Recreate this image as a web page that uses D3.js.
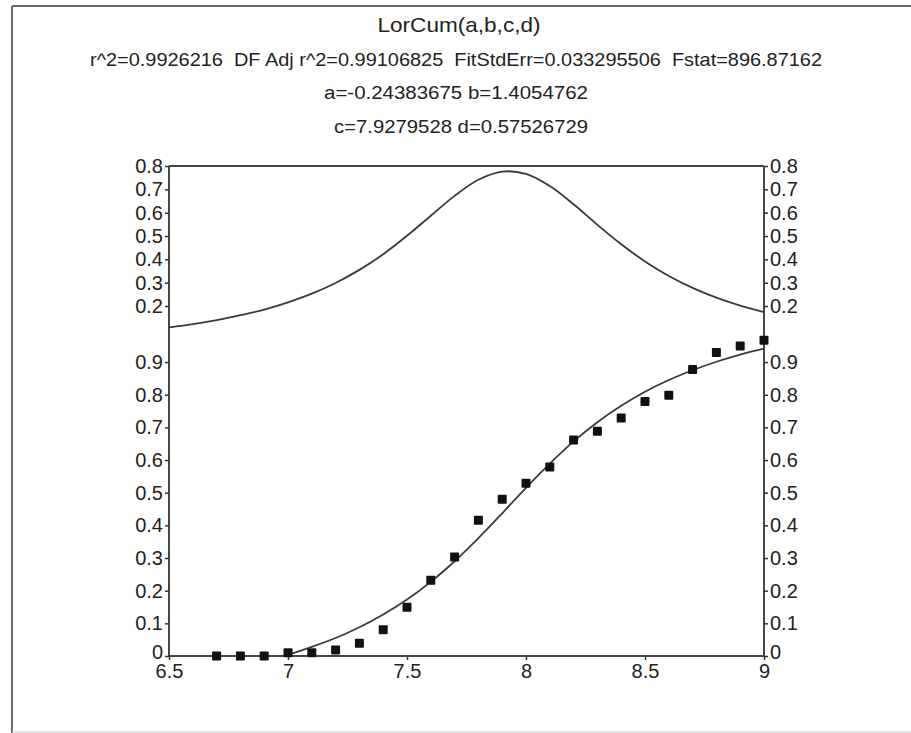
<!DOCTYPE html>
<html><head><meta charset="utf-8">
<script src="https://cdn.jsdelivr.net/npm/d3@7"></script>
<style>
html,body{margin:0;padding:0;background:#fff;}
svg{display:block;}
text{font-family:"Liberation Sans",Arial,sans-serif;fill:#222;white-space:pre;}
</style></head>
<body>
<svg id="chart" width="911" height="733"></svg>
<script>
// ---- data ----
const titleText = "LorCum(a,b,c,d)";
const statLines = [
  "r^2=0.9926216  DF Adj r^2=0.99106825  FitStdErr=0.033295506  Fstat=896.87162",
  "a=-0.24383675 b=1.4054762",
  "c=7.9279528 d=0.57526729"
];
const obsX = [6.7,6.8,6.9,7.0,7.1,7.2,7.3,7.4,7.5,7.6,7.7,7.8,7.9,8.0,8.1,8.2,8.3,8.4,8.5,8.6,8.7,8.8,8.9,9.0];
const obsY = [0.0,0.0,0.0,0.01,0.01,0.018,0.039,0.08,0.149,0.232,0.303,0.416,0.48,0.529,0.579,0.661,0.688,0.729,0.779,0.798,0.877,0.929,0.949,0.967];
const fitX = [6.5,6.6,6.7,6.8,6.9,7.0,7.1,7.2,7.3,7.4,7.5,7.6,7.7,7.8,7.9,8.0,8.1,8.2,8.3,8.4,8.5,8.6,8.7,8.8,8.9,9.0];
const fitCum = [-0.073,-0.061,-0.048,-0.033,-0.016,0.004,0.028,0.055,0.088,0.127,0.173,0.227,0.290,0.361,0.437,0.515,0.589,0.657,0.716,0.766,0.809,0.845,0.875,0.901,0.923,0.941];
const fitPeak = [0.109,0.123,0.140,0.161,0.185,0.216,0.253,0.299,0.355,0.422,0.501,0.587,0.672,0.741,0.776,0.766,0.714,0.636,0.548,0.465,0.391,0.329,0.278,0.236,0.202,0.174];
const xTicks = [6.5,7,7.5,8,8.5,9];
const lowTicks = [0,0.1,0.2,0.3,0.4,0.5,0.6,0.7,0.8,0.9];
const upTicks = [0.2,0.3,0.4,0.5,0.6,0.7,0.8];

// ---- layout ----
const L = 169, R = 764, TOP = 166, MID = 329.4, BOT = 656;
const svg = d3.select("#chart");
const x = d3.scaleLinear().domain([6.5, 9]).range([L, R]);
const yLow = d3.scaleLinear().domain([0, 1]).range([BOT, MID]);
const yUp = d3.scaleLinear().domain([0.1, 0.8]).range([MID, TOP]);
const fmt = d => String(d);

// outer frame
svg.append("line").attr("x1", 12).attr("y1", 6).attr("x2", 911).attr("y2", 6).attr("stroke", "#6a6a6a").attr("stroke-width", 2);
svg.append("line").attr("x1", 12).attr("y1", 6).attr("x2", 12).attr("y2", 733).attr("stroke", "#6a6a6a").attr("stroke-width", 2);
svg.append("line").attr("x1", 12).attr("y1", 732).attr("x2", 911).attr("y2", 732).attr("stroke", "#c8c8c8").attr("stroke-width", 1);

// titles
svg.append("text").attr("x", 459).attr("y", 32).attr("text-anchor", "middle")
  .attr("font-size", 21).attr("textLength", 163).attr("lengthAdjust", "spacingAndGlyphs").text(titleText);
const statPos = [{cx: 456, y: 66, w: 732}, {cx: 456, y: 99, w: 264}, {cx: 461, y: 133, w: 254}];
statLines.forEach((s, i) => {
  svg.append("text").attr("x", statPos[i].cx).attr("y", statPos[i].y).attr("text-anchor", "middle")
    .attr("xml:space", "preserve")
    .attr("font-size", 19).attr("textLength", statPos[i].w).attr("lengthAdjust", "spacingAndGlyphs").text(s);
});

// clip paths
const defs = svg.append("defs");
defs.append("clipPath").attr("id", "clipUp").append("rect").attr("x", L).attr("y", TOP).attr("width", R - L).attr("height", MID - TOP);
defs.append("clipPath").attr("id", "clipLow").append("rect").attr("x", L).attr("y", MID).attr("width", R - L).attr("height", BOT - MID);

// axes
function styleAxis(g) {
  g.select(".domain").remove();
  g.selectAll(".tick line").attr("stroke", "#333").attr("stroke-width", 1.5);
  g.selectAll(".tick text").attr("font-size", 20).attr("fill", "#222")
    .attr("font-family", "'Liberation Sans', Arial, sans-serif");
}
function liftZero(g) {
  g.selectAll(".tick").filter(d => d === 0).select("text").attr("dy", "0.12em");
}
svg.append("g").attr("transform", `translate(${L},0)`)
  .call(d3.axisLeft(yLow).tickValues(lowTicks).tickSize(4).tickPadding(2).tickFormat(fmt)).call(styleAxis).call(liftZero);
svg.append("g").attr("transform", `translate(${L},0)`)
  .call(d3.axisLeft(yUp).tickValues(upTicks).tickSize(4).tickPadding(2).tickFormat(fmt)).call(styleAxis);
svg.append("g").attr("transform", `translate(${R},0)`)
  .call(d3.axisRight(yLow).tickValues(lowTicks).tickSize(4).tickPadding(2).tickFormat(fmt)).call(styleAxis).call(liftZero);
svg.append("g").attr("transform", `translate(${R},0)`)
  .call(d3.axisRight(yUp).tickValues(upTicks).tickSize(4).tickPadding(2).tickFormat(fmt)).call(styleAxis);
svg.append("g").attr("transform", `translate(0,${BOT})`)
  .call(d3.axisBottom(x).tickValues(xTicks).tickSize(4).tickPadding(4).tickFormat(fmt)).call(styleAxis);

// frame lines
svg.append("line").attr("x1", L).attr("x2", L).attr("y1", TOP).attr("y2", BOT).attr("stroke", "#333").attr("stroke-width", 1.8);
svg.append("line").attr("x1", R).attr("x2", R).attr("y1", TOP).attr("y2", BOT).attr("stroke", "#333").attr("stroke-width", 1.8);
svg.append("line").attr("x1", L).attr("x2", R).attr("y1", TOP).attr("y2", TOP).attr("stroke", "#444").attr("stroke-width", 2);
svg.append("line").attr("x1", L).attr("x2", R).attr("y1", BOT).attr("y2", BOT).attr("stroke", "#444").attr("stroke-width", 2.2);

// fitted curves
const upLine = d3.line().x((d, i) => x(fitX[i])).y(d => yUp(d)).curve(d3.curveCatmullRom.alpha(0.5));
const lowLine = d3.line().x((d, i) => x(fitX[i])).y(d => yLow(d)).curve(d3.curveCatmullRom.alpha(0.5));
svg.append("path").attr("clip-path", "url(#clipUp)").attr("d", upLine(fitPeak))
  .attr("fill", "none").attr("stroke", "#3a3a3a").attr("stroke-width", 1.8);
svg.append("path").attr("clip-path", "url(#clipLow)").attr("d", lowLine(fitCum))
  .attr("fill", "none").attr("stroke", "#3a3a3a").attr("stroke-width", 1.8);

// observed points
const S = 9;
svg.append("g").selectAll("rect").data(obsY).join("rect")
  .attr("x", (d, i) => x(obsX[i]) - S / 2).attr("y", d => yLow(d) - S / 2)
  .attr("width", S).attr("height", S).attr("rx", 1).attr("fill", "#111");
</script>
</body></html>
